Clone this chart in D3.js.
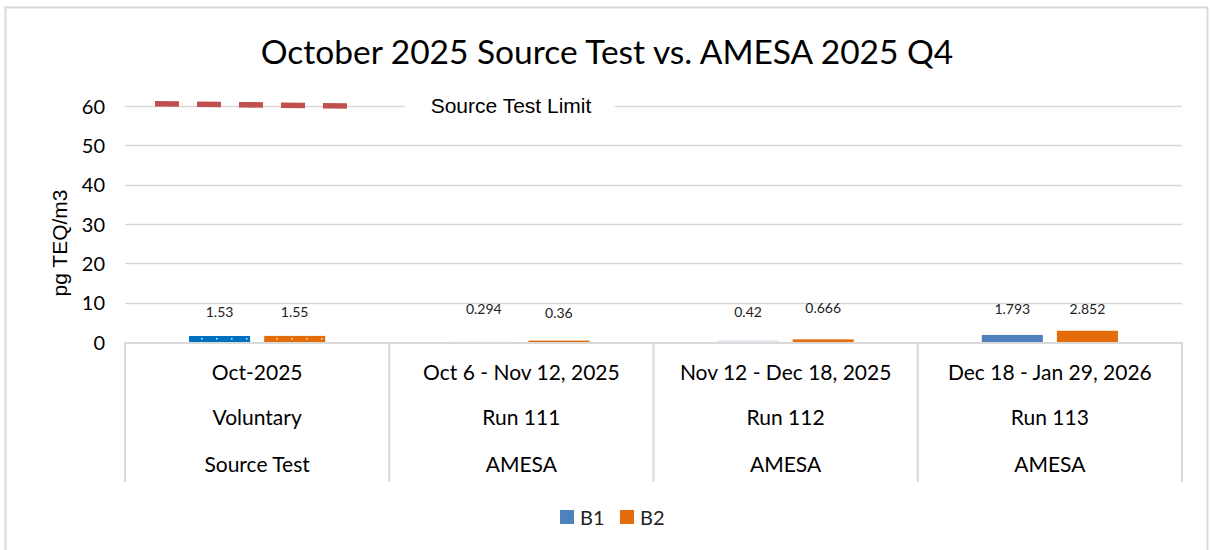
<!DOCTYPE html>
<html><head><meta charset="utf-8">
<script src="https://cdn.jsdelivr.net/npm/d3@7"></script>
<style>body{margin:0;background:#fff}svg{display:block}</style>
</head><body>
<script>
const categoriesLine1 = ["Oct-2025", "Oct 6 - Nov 12, 2025", "Nov 12 - Dec 18, 2025", "Dec 18 - Jan 29, 2026"];
const categoriesLine2 = ["Voluntary", "Run 111", "Run 112", "Run 113"];
const categoriesLine3 = ["Source Test", "AMESA", "AMESA", "AMESA"];
const seriesNames = ["B1", "B2"];
const b1Values = [1.53, 0.294, 0.42, 1.793];
const b2Values = [1.55, 0.36, 0.666, 2.852];
const b1Labels = ["1.53", "0.294", "0.42", "1.793"];
const b2Labels = ["1.55", "0.36", "0.666", "2.852"];
const yTicks = [0, 10, 20, 30, 40, 50, 60];
const limitValues = [60.6, 60.0];
const limitLabel = "Source Test Limit";
const title = "October 2025 Source Test vs. AMESA 2025 Q4";
const yTitle = "pg TEQ/m3";

const W = 1210, H = 550;
const svg = d3.select("body").append("svg").attr("width", W).attr("height", H);

// outer border
svg.append("rect").attr("x", 5.5).attr("y", 7.5).attr("width", 1202).attr("height", 560)
  .attr("fill", "none").attr("stroke", "#d9d9d9").attr("stroke-width", 2);

const x0 = 125, x1 = 1182, yTop = 106, yBot = 342;
const y = d3.scaleLinear().domain([0, 60]).range([yBot, yTop]);
const xc = d3.scaleBand().domain(d3.range(categoriesLine1.length)).range([x0, x1]).paddingInner(0).paddingOuter(0);
const xs = d3.scaleBand().domain(seriesNames).range([0, xc.bandwidth()]).paddingInner(0.187).paddingOuter(0.853);

// title
svg.append("text").attr("x", 607).attr("y", 64).attr("text-anchor", "middle")
  .attr("font-family", "Lato, 'Open Sans', sans-serif").attr("font-size", 33.5).attr("fill", "#000").text(title);

// gridlines
const g = svg.append("g");
g.selectAll("line.grid").data(yTicks.filter(d => d > 0)).join("line")
  .attr("x1", x0).attr("x2", x1).attr("y1", d => Math.round(y(d)) + 0.5).attr("y2", d => Math.round(y(d)) + 0.5)
  .attr("stroke", "#d9d9d9").attr("stroke-width", 1.5);

// y axis tick labels
const yAxis = d3.axisLeft(y).tickValues(yTicks).tickSize(0).tickPadding(0);
const ya = svg.append("g").attr("transform", `translate(105,0)`).call(yAxis);
ya.select(".domain").remove();
ya.selectAll("text").attr("font-family", "Lato, sans-serif").attr("font-size", 20).attr("fill", "#000").attr("dy", "0.35em");

// y title
svg.append("text").attr("transform", `translate(67,243) rotate(-90)`).attr("text-anchor", "middle")
  .attr("font-family", "'Liberation Sans', Arial, sans-serif").attr("font-size", 21).attr("fill", "#000").text(yTitle);

// category box
const box = svg.append("g").attr("stroke", "#d9d9d9").attr("stroke-width", 2);
box.append("line").attr("x1", x0).attr("x2", x1).attr("y1", yBot + 1).attr("y2", yBot + 1);
const dividers = d3.range(categoriesLine1.length + 1).map(i => i < categoriesLine1.length ? xc(i) : x1);
box.selectAll("line.v").data(dividers).join("line")
  .attr("x1", d => d).attr("x2", d => d).attr("y1", yBot).attr("y2", 482);

const lines = [categoriesLine1, categoriesLine2, categoriesLine3];
const rowY = [380, 425, 472];
lines.forEach((arr, r) => {
  svg.selectAll(null).data(arr).join("text")
    .attr("x", (d, i) => xc(i) + xc.bandwidth() / 2).attr("y", rowY[r]).attr("text-anchor", "middle")
    .attr("font-family", "Lato, sans-serif").attr("font-size", 21).attr("fill", "#000").text(d => d);
});

// bar patterns for first group
const defs = svg.append("defs");
function dots(id, color) {
  const p = defs.append("pattern").attr("id", id).attr("patternUnits", "userSpaceOnUse").attr("width", 15).attr("height", 6);
  p.append("rect").attr("width", 15).attr("height", 6).attr("fill", color);
  p.append("rect").attr("x", 6).attr("y", 2).attr("width", 1.5).attr("height", 1.5).attr("fill", "#dfe9f5");
}
dots("dotB1", "#0070C0");
dots("dotB2", "#E36C09");

const b1Fill = ["url(#dotB1)", "#f5f8fc", "#dde6f1", "#4F81BD"];
const b2Fill = ["url(#dotB2)", "#E46C0A", "#E46C0A", "#E46C0A"];
const series = [{ name: "B1", vals: b1Values, labels: b1Labels, fills: b1Fill },
                { name: "B2", vals: b2Values, labels: b2Labels, fills: b2Fill }];
const labelOffset = { B1: [25, 28.5, 25, 28.5], B2: [25, 24.5, 29.5, 28.5] };
series.forEach(s => {
  svg.selectAll(null).data(s.vals).join("rect")
    .attr("x", (d, i) => xc(i) + xs(s.name)).attr("width", xs.bandwidth())
    .attr("y", d => y(d)).attr("height", d => yBot - y(d)).attr("fill", (d, i) => s.fills[i]);
  svg.selectAll(null).data(s.vals).join("text")
    .attr("x", (d, i) => xc(i) + xs(s.name) + xs.bandwidth() / 2)
    .attr("y", (d, i) => yBot - labelOffset[s.name][i])
    .attr("text-anchor", "middle").attr("font-family", "Lato, sans-serif").attr("font-size", 14).attr("fill", "#222")
    .text((d, i) => s.labels[i]);
});

// source test limit line
const lx = d3.scaleLinear().domain([0, limitValues.length - 1]).range([155, 348]);
svg.append("path").datum(limitValues)
  .attr("d", d3.line().x((d, i) => lx(i)).y(d => y(d)))
  .attr("stroke", "#C0504D").attr("stroke-width", 5.5).attr("fill", "none").attr("stroke-dasharray", "24 18");
// label with white background
svg.append("rect").attr("x", 405).attr("y", 96).attr("width", 210).attr("height", 20).attr("fill", "#fff");
svg.append("text").attr("x", 511).attr("y", 113).attr("text-anchor", "middle")
  .attr("font-family", "'Liberation Sans', Arial, sans-serif").attr("font-size", 21).attr("fill", "#000").text(limitLabel);

// legend
const legend = svg.append("g").attr("transform", "translate(560,510)");
const legColors = ["#4F81BD", "#E46C0A"];
const legX = [0, 60];
seriesNames.forEach((n, i) => {
  legend.append("rect").attr("x", legX[i]).attr("y", 0).attr("width", 14).attr("height", 14).attr("fill", legColors[i]);
  legend.append("text").attr("x", legX[i] + 20).attr("y", 14.5).attr("font-family", "Lato, sans-serif")
    .attr("font-size", 20).attr("fill", "#222").text(n);
});
</script>
</body></html>
